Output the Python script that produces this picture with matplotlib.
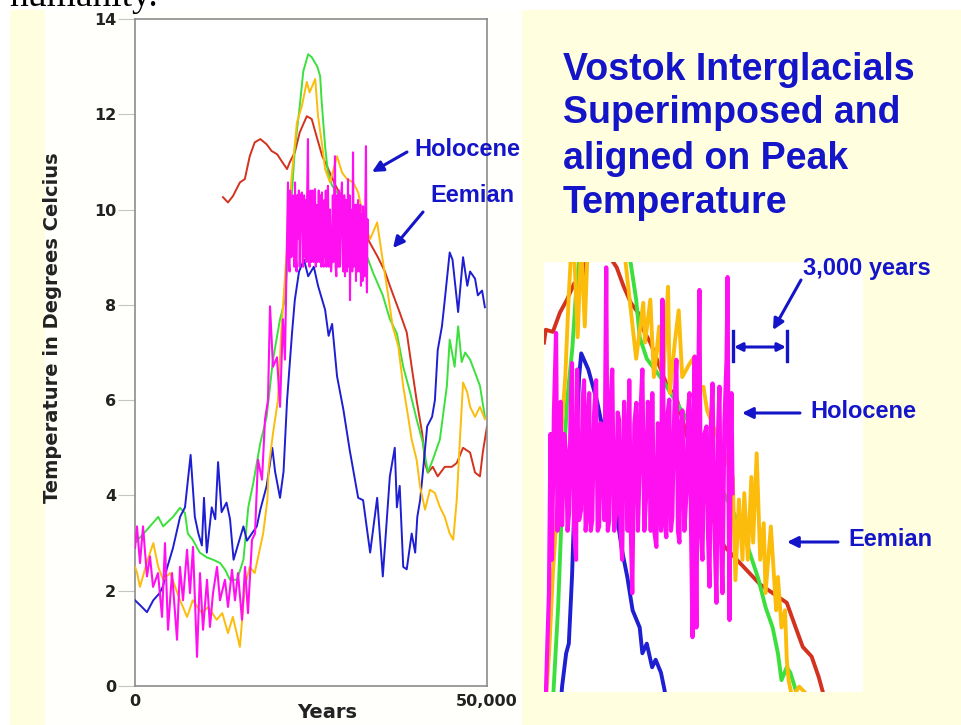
import matplotlib.pyplot as plt
from matplotlib.patches import Rectangle, FancyArrowPatch
from matplotlib.lines import Line2D

# ---- data (time in thousands of years, temperature in deg C) ----
red_t = [12.5, 13.2, 13.9, 14.9, 15.6, 16.3, 17.0, 17.8, 18.7, 19.4, 20.2, 20.9, 21.6, 22.0,
         22.7, 23.4, 24.4, 25.1, 25.9, 26.6, 27.3, 28.5, 30.0, 31.5, 33.0, 34.5, 35.5, 36.2,
         37.6, 38.6, 39.3, 40.0, 40.8, 41.2, 41.6, 42.3, 43.0, 44.0, 45.0, 45.7, 46.6, 47.6,
         48.3, 49.0, 49.4, 50.0]
red_v = [10.26, 10.15, 10.28, 10.57, 10.64, 11.12, 11.41, 11.48, 11.37, 11.23, 11.16, 11.0, 10.85, 11.0,
         11.2, 11.62, 11.96, 11.9, 11.48, 11.12, 10.9, 10.5, 10.1, 9.8, 9.4, 9.0, 8.7, 8.4,
         7.84, 7.42, 6.7, 6.0, 5.3, 4.68, 4.48, 4.6, 4.4, 4.6, 4.6, 4.68, 5.0, 4.9,
         4.48, 4.4, 4.9, 5.45]

green_t = [0.0, 1.7, 3.3, 4.0, 5.4, 6.4, 7.1, 7.5, 8.2, 9.2, 10.2, 11.1, 12.1, 12.8, 13.5, 14.5,
           15.4, 16.1, 16.8, 17.8, 18.7, 19.6, 20.6, 21.3, 22.7, 23.4, 23.9, 24.6, 25.1, 25.9,
           26.3, 26.5, 27.0, 27.4, 28.0, 29.0, 30.5, 32.0, 33.0, 33.8, 35.2, 36.2, 37.2, 38.1,
           39.1, 40.0, 40.9, 41.6, 42.3, 43.3, 44.3, 44.7, 45.4, 45.9, 46.4, 46.9, 47.6, 48.3,
           49.0, 49.7]
green_v = [3.0, 3.28, 3.55, 3.35, 3.55, 3.74, 3.63, 3.2, 3.07, 2.8, 2.7, 2.65, 2.58, 2.44, 2.23, 2.23,
           2.65, 3.76, 4.26, 5.1, 5.65, 6.85, 7.7, 8.1, 11.27, 12.17, 12.9, 13.26, 13.2, 13.0,
           12.8, 12.3, 11.33, 10.78, 10.5, 10.3, 10.0, 9.5, 9.0, 8.68, 8.2, 7.7, 7.4, 6.7,
           6.15, 5.6, 5.1, 4.48, 4.75, 5.17, 6.3, 7.27, 6.7, 7.55, 6.8, 7.0, 6.85, 6.58,
           6.3, 5.65]

blue_t = [0.0, 0.7, 1.7, 2.6, 3.5, 4.0, 4.5, 5.4, 6.4, 7.1, 7.9, 8.5, 9.0, 9.5, 9.8, 10.2, 10.9,
          11.4, 11.8, 12.3, 13.0, 13.5, 14.0, 14.6, 15.4, 15.9, 16.6, 17.3, 17.8, 18.7, 19.5,
          19.9, 20.6, 21.1, 21.6, 22.3, 22.7, 23.3, 24.0, 24.6, 25.4, 26.0, 26.6, 27.0, 27.5,
          28.0, 28.7, 29.6, 30.5, 31.7, 32.4, 33.4, 34.4, 35.2, 36.2, 36.9, 37.2, 37.6, 38.1,
          38.6, 39.3, 39.8, 40.1, 40.5, 40.9, 41.5, 42.2, 42.6, 43.0, 43.6, 44.0, 44.7, 45.1,
          45.9, 46.6, 47.2, 47.6, 48.3, 48.7, 49.3, 49.7]
blue_v = [1.8, 1.7, 1.55, 1.8, 1.95, 2.1, 2.45, 2.9, 3.55, 3.75, 4.85, 3.55, 3.2, 2.95, 3.95, 2.8, 3.75,
          3.5, 4.7, 3.65, 3.85, 3.5, 2.65, 2.95, 3.35, 3.05, 3.2, 3.35, 3.7, 4.2, 5.0,
          4.5, 3.95, 4.5, 6.0, 7.4, 8.1, 8.7, 8.95, 8.6, 8.8, 8.4, 8.1, 7.9, 7.35,
          7.6, 6.5, 5.8, 4.95, 3.95, 3.9, 2.8, 3.95, 2.3, 4.4, 5.0, 3.75, 4.2, 2.5,
          2.45, 3.2, 2.8, 3.55, 3.9, 4.5, 5.45, 5.65, 6.0, 7.05, 7.55, 8.1, 9.1, 8.95,
          7.85, 9.0, 8.4, 8.7, 8.55, 8.2, 8.3, 7.95]

eemian_t = [0.0, 0.3, 0.7, 1.8, 2.6, 3.3, 4.0, 5.0, 6.4, 7.4, 8.2, 9.5, 10.4, 11.6, 12.4, 13.2,
            13.9, 14.9, 15.6, 16.3, 17.0, 17.8, 18.2, 18.8, 19.0, 19.6, 20.3, 20.8, 21.5, 22.2,
            23.0, 23.7, 24.4, 24.8, 25.6, 26.0, 26.6, 27.0, 27.7, 28.7, 29.4, 30.1, 31.0, 31.7,
            32.7, 33.4, 34.4, 35.1, 35.9, 36.6, 37.4, 38.1, 38.8, 39.3, 40.0, 40.5, 41.2, 41.9,
            42.6, 43.3, 44.0, 44.7, 45.2, 45.7, 46.2, 46.6, 47.2, 47.6, 48.3, 49.0, 49.7]
eemian_v = [2.5, 2.37, 2.08, 2.65, 3.0, 2.5, 2.23, 2.37, 1.8, 1.45, 1.8, 1.53, 1.66, 1.39, 1.53, 1.11,
            1.45, 0.82, 2.08, 2.5, 2.37, 2.92, 3.2, 3.9, 4.6, 5.3, 6.0, 7.5, 9.0, 10.6,
            11.83, 12.17, 12.68, 12.46, 12.74, 11.96, 11.33, 10.85, 10.57, 11.12, 10.78, 10.64, 10.57, 10.36,
            9.65, 9.38, 9.73, 9.02, 8.26, 7.55, 7.13, 6.29, 5.65, 5.17, 4.75, 4.18, 3.7, 4.12,
            4.05, 3.76, 3.55, 3.2, 3.07, 3.9, 5.3, 6.37, 6.16, 5.86, 5.65, 5.86, 5.6]

holocene_t = [0.0, 0.28, 0.71, 1.14, 1.70, 2.13, 2.56, 3.27, 3.84, 4.26, 4.69, 5.26, 5.97, 6.39,
              6.82, 7.39, 7.81, 8.24, 8.81, 9.23, 9.66, 10.23, 10.65, 11.08, 11.65, 12.07, 12.78,
              13.21, 13.78, 14.2, 14.63, 15.2, 15.63, 16.05, 16.62, 17.05, 17.47, 18.04, 18.47,
              18.89, 19.18, 19.6, 20.17, 20.6, 21.02, 21.3,
              21.73, 21.85, 21.95, 22.05, 22.15, 22.3, 22.4, 22.5, 22.62, 22.73, 22.85, 22.95, 23.05,
              23.15, 23.28, 23.4, 23.55, 23.72, 23.82, 23.9, 24.02, 24.15, 24.25, 24.35, 24.45, 24.57,
              24.68, 24.8, 24.95, 25.05, 25.14, 25.25, 25.35, 25.45, 25.57, 25.68, 25.8, 25.9, 25.99,
              26.1, 26.2, 26.35, 26.45, 26.56, 26.68, 26.8, 26.9, 26.99, 27.1, 27.2, 27.3, 27.41,
              27.55, 27.7, 27.85, 27.98, 28.1, 28.2, 28.3, 28.41, 28.5, 28.6, 28.72, 28.84, 28.95,
              29.1, 29.25, 29.4, 29.5, 29.6, 29.72, 29.83, 29.92, 30.0, 30.12, 30.26, 30.33, 30.4,
              30.47, 30.54, 30.65, 30.75, 30.86, 30.97, 31.08, 31.2, 31.3, 31.39, 31.47, 31.55, 31.62,
              31.68, 31.8, 31.9, 32.0, 32.1, 32.18, 32.25, 32.32, 32.39, 32.5, 32.6, 32.7, 32.81,
              32.88, 32.95, 33.02, 33.1]
holocene_v = [2.9, 3.35, 2.58, 3.35, 2.3, 2.72, 2.08, 2.37, 1.45, 3.0, 1.18, 2.37, 0.97, 2.5,
              1.8, 2.86, 1.95, 2.92, 0.61, 2.37, 1.18, 2.23, 1.24, 1.95, 2.5, 1.8, 2.23,
              1.66, 2.44, 1.8, 2.37, 1.39, 2.5, 1.53, 3.07, 3.2, 4.75, 4.33, 5.6,
              6.0, 7.97, 6.7, 6.9, 5.86, 7.7, 6.85,
              10.57, 8.9, 8.7, 10.4, 9.0, 9.02, 10.3, 10.2, 8.8, 10.57, 9.0, 8.7, 10.3,
              9.38, 10.4, 8.8, 10.3, 10.36, 8.9, 8.8, 10.3, 9.0, 10.2, 8.9, 10.3, 11.48,
              8.9, 8.8, 10.4, 8.9, 9.38, 10.4, 8.9, 10.2, 10.43, 8.8, 10.1, 8.9, 8.96,
              10.4, 8.9, 10.3, 8.8, 10.36, 8.9, 8.8, 10.2, 9.0, 10.4, 8.8, 10.1, 10.5,
              8.8, 10.0, 8.7, 9.0, 10.3, 8.9, 10.4, 11.12, 8.8, 8.6, 10.3, 8.8, 10.4,
              8.8, 10.2, 10.57, 8.9, 8.7, 10.3, 8.6, 10.0, 10.2, 8.7, 10.64, 8.9, 8.8,
              10.3, 8.1, 10.0, 9.8, 8.7, 11.2, 8.8, 9.2, 10.1, 8.5, 10.1, 10.0, 8.7,
              10.2, 8.8, 8.7, 10.1, 8.4, 9.9, 9.8, 8.5, 10.07, 8.8, 8.6, 10.0, 11.33,
              8.7, 8.26, 9.8, 9.38]

# ---- inset (zoom on the peak) ----
in_red_t = [22.8, 22.9, 23.3, 23.7, 24.1, 24.5, 25.0, 25.3, 25.7, 26.3, 26.9, 27.3, 27.7, 28.1,
            28.3, 28.8, 29.7, 30.3, 31.5, 32.7, 33.0, 35.0, 36.5, 37.0, 37.4, 37.9, 38.3, 38.5, 38.7]
in_red_v = [10.75, 10.87, 10.85, 11.03, 11.15, 11.3, 11.33, 11.6, 11.8, 11.6, 11.45, 11.27, 11.12, 11.03,
            10.9, 10.75, 10.37, 10.22, 9.5, 8.94, 8.85, 8.5, 8.33, 8.1, 7.92, 7.83, 7.64, 7.52, 7.4]

in_green_t = [23.3, 23.6, 23.9, 24.1, 24.4, 24.6, 24.9, 25.5, 26.5, 27.5, 28.0, 28.2, 28.6, 29.5,
              31.0, 32.5, 34.0, 34.9, 35.3, 35.7, 36.0, 36.2, 36.5, 36.7, 37.0, 37.2]
in_green_v = [7.4, 8.3, 9.6, 10.2, 10.7, 11.2, 11.7, 12.0, 12.0, 11.7, 11.15, 10.8, 10.6, 10.4,
              10.0, 9.5, 9.0, 8.55, 8.29, 8.1, 7.86, 7.61, 7.73, 7.68, 7.52, 7.4]

in_blue_t = [23.7, 23.82, 24.05, 24.2, 24.38, 24.6, 24.78, 24.9, 25.3, 25.8, 26.3, 26.87, 27.2,
             27.5, 27.8, 28.2, 28.35, 28.6, 28.9, 29.1, 29.4, 29.6, 29.7]
in_blue_v = [7.3, 7.55, 7.86, 7.95, 8.57, 9.66, 10.43, 10.65, 10.5, 10.2, 9.8, 9.19, 8.82,
             8.57, 8.26, 8.1, 7.86, 7.95, 7.73, 7.8, 7.68, 7.52, 7.4]

in_eemian_t = [22.9, 23.1, 23.3, 23.6, 23.8, 24.0, 24.2, 24.4, 24.5, 24.7, 24.9, 25.1, 25.3, 25.6,
               26.5, 27.2, 27.6, 28.0, 28.4, 28.5, 28.8, 29.0, 29.3, 29.5, 29.8, 29.9, 30.2, 30.4,
               30.6, 31.0, 31.3, 31.5, 31.8, 32.0, 32.5, 33.1, 33.45, 33.6, 33.8, 34.0, 34.1, 34.3,
               34.5, 34.6, 34.8, 35.0, 35.2, 35.3, 35.6, 35.9, 36.0, 36.2, 36.4, 36.5, 36.6, 36.8,
               37.2, 37.5, 37.8]
in_eemian_v = [7.4, 7.9, 8.6, 9.35, 9.96, 10.43, 11.2, 11.8, 11.6, 10.8, 11.7, 10.9, 11.8, 12.0,
               12.0, 11.8, 11.2, 10.6, 11.12, 10.75, 11.15, 10.43, 10.9, 10.34, 11.27, 10.28, 10.78, 11.05,
               10.43, 10.55, 10.62, 10.28, 10.34, 10.12, 9.91, 9.66, 9.5, 8.54, 9.29, 8.73, 9.35, 8.73,
               9.5, 8.89, 9.72, 8.73, 9.07, 8.42, 9.04, 8.26, 8.57, 8.1, 8.26, 7.8, 7.61, 7.45,
               7.55, 7.5, 7.4]

in_holo_t = [22.8, 22.91, 23.0, 23.08, 23.17, 23.25, 23.36, 23.48, 23.56, 23.65, 23.74, 23.82, 23.94,
             24.05, 24.13, 24.21, 24.3, 24.38, 24.5, 24.61, 24.67, 24.78, 24.89, 24.98, 25.06, 25.15,
             25.23, 25.29, 25.35, 25.44, 25.52, 25.63, 25.74, 25.83, 25.91, 26.0, 26.08, 26.2, 26.31,
             26.4, 26.48, 26.56, 26.65, 26.76, 26.87, 26.96, 27.04, 27.12, 27.21, 27.32, 27.44, 27.52,
             27.61, 27.7, 27.78, 27.9, 28.01, 28.1, 28.18, 28.27, 28.35, 28.46, 28.57, 28.66, 28.74,
             28.82, 28.91, 29.02, 29.14, 29.22, 29.31, 29.4, 29.48, 29.6, 29.7, 29.78, 29.87, 29.96,
             30.04, 30.15, 30.27, 30.36, 30.44, 30.52, 30.61, 30.72, 30.84, 30.92, 31.01, 31.1, 31.18,
             31.24, 31.3, 31.35, 31.4, 31.48, 31.57, 31.65, 31.74, 31.85, 31.97, 32.05, 32.14, 32.22,
             32.31, 32.42, 32.53, 32.62, 32.7, 32.78, 32.87, 32.98, 33.1, 33.16, 33.22, 33.27, 33.33,
             33.38, 33.44]
in_holo_v = [7.3, 7.5, 8.0, 8.42, 9.9, 8.73, 10.1, 10.84, 9.0, 9.66, 10.2, 9.05, 9.9,
             9.72, 9.0, 9.16, 10.1, 10.56, 9.0, 8.73, 10.5, 9.1, 9.19, 10.2, 10.4, 9.0,
             9.16, 10.1, 10.28, 9.0, 9.1, 10.1, 10.4, 9.0, 9.04, 10.0, 9.97, 9.1, 11.45,
             9.0, 9.1, 10.2, 10.5, 9.0, 9.16, 10.1, 10.03, 9.0, 8.73, 10.2, 9.66, 9.0,
             10.4, 9.0, 8.42, 10.0, 10.19, 9.0, 9.5, 10.2, 10.5, 9.0, 9.35, 10.2, 9.97,
             9.0, 10.28, 9.0, 8.85, 10.0, 9.97, 9.0, 11.15, 9.1, 8.94, 10.1, 10.22, 9.0,
             9.13, 10.1, 10.59, 9.0, 8.89, 10.0, 10.12, 9.0, 9.35, 10.1, 10.28, 9.0, 8.01,
             9.9, 10.62, 9.0, 8.1, 10.0, 11.24, 9.0, 8.73, 9.9, 9.97, 9.0, 8.48, 10.0,
             10.37, 9.0, 8.33, 9.9, 10.34, 9.0, 8.42, 10.0, 10.59, 11.36, 9.2, 8.17, 9.8,
             10.28, 9.35]

y_ticks = [0, 2, 4, 6, 8, 10, 12, 14]
x_ticks = [0, 50]
x_tick_labels = ['0', '50,000']

# ---- colours ----
RED = '#d2321e'
GREEN = '#3ce03c'
BLUE = '#1e1ed2'
ORANGE = '#fcbc0c'
MAGENTA = '#ff10f0'
TXT_BLUE = '#1414c8'
YELLOW = '#ffffe0'

W, H = 962, 725


def fx(x):
    return x / W


def fy(y):
    return 1 - y / H


def fig_arrow(x0, y0, x1, y1, style='-|>', scale=16):
    # arrow in pixel positions, drawn at figure level so the inset does not hide it
    fig.add_artist(FancyArrowPatch((fx(x0), fy(y0)), (fx(x1), fy(y1)), transform=fig.transFigure,
                                   arrowstyle=style, color=TXT_BLUE, lw=2.2, mutation_scale=scale,
                                   shrinkA=0, shrinkB=0, zorder=10))


fig = plt.figure(figsize=(W / 100, H / 100), dpi=100, facecolor=YELLOW)

# white panels behind the left chart
fig.add_artist(Rectangle((fx(45), 0), fx(522) - fx(45), fy(10), transform=fig.transFigure,
                         facecolor='#fffffc', edgecolor='none', zorder=-2))
fig.add_artist(Rectangle((0, fy(10)), 1, 10 / H, transform=fig.transFigure,
                         facecolor='white', edgecolor='none', zorder=-2))
fig.add_artist(Rectangle((0, 0), fx(10), 1, transform=fig.transFigure,
                         facecolor='white', edgecolor='none', zorder=-2))

# cut-off text from the page above
fig.text(fx(10), fy(6), 'humanity.', family='Liberation Serif', fontsize=27,
         ha='left', va='baseline', color='black')

# ---- main chart ----
ax = fig.add_axes([fx(135), fy(686), fx(487) - fx(135), (686 - 19) / H])
ax.set_facecolor('white')
lw = 1.4
ax.plot(red_t, red_v, color=RED, lw=lw, zorder=2)
ax.plot(green_t, green_v, color=GREEN, lw=lw, zorder=3)
ax.plot(blue_t, blue_v, color=BLUE, lw=lw, zorder=4)
ax.plot(eemian_t, eemian_v, color=ORANGE, lw=lw, zorder=5)
ax.plot(holocene_t, holocene_v, color=MAGENTA, lw=1.5, zorder=6)

ax.set_xlim(0, 50)
ax.set_ylim(0, 14)
ax.set_yticks(y_ticks)
ax.set_yticklabels([str(v) for v in y_ticks])
ax.set_xticks(x_ticks)
ax.set_xticklabels(x_tick_labels)
for s in ax.spines.values():
    s.set_color('#8c8c8c')
    s.set_linewidth(1.2)
ax.tick_params(axis='y', direction='out', length=12, width=0.8, color='#c4c4c4', pad=1.5,
               labelsize=11.5, labelcolor='#222222')
ax.tick_params(axis='x', length=0, pad=6, labelsize=11.5, labelcolor='#222222')
for lab in ax.get_xticklabels() + ax.get_yticklabels():
    lab.set_fontweight('bold')

ax.set_xlabel('Years', fontsize=14, fontweight='bold', color='#222222')
ax.xaxis.set_label_coords((327 - 135) / 352, (686 - 703) / 667)
ax.set_ylabel('Temperature in Degrees Celcius', fontsize=14, fontweight='bold', color='#222222')
ax.yaxis.set_label_coords((62 - 135) / 352, (686 - 328) / 667)

ann_font = dict(family='Liberation Sans', fontsize=17, fontweight='bold', color=TXT_BLUE)

fig.text(fx(414), fy(150), 'Holocene', ha='left', va='center', **ann_font)
fig.text(fx(430), fy(196), 'Eemian', ha='left', va='center', **ann_font)
fig_arrow(407, 152, 372, 172)
fig_arrow(423, 212, 393, 248)

# ---- title ----
title_lines = ['Vostok Interglacials', 'Superimposed and', 'aligned on Peak', 'Temperature']
for line, base in zip(title_lines, [80, 123, 169, 213]):
    fig.text(fx(563), fy(base), line, family='Liberation Sans', fontsize=27,
             fontweight='bold', color=TXT_BLUE, ha='left', va='baseline')

# ---- inset ----
ins = fig.add_axes([fx(544), fy(692), fx(863) - fx(544), (692 - 262) / H])
ins.set_facecolor('white')
ilw = 2.8
ins.plot(in_red_t, in_red_v, color=RED, lw=ilw, zorder=2)
ins.plot(in_green_t, in_green_v, color=GREEN, lw=ilw, zorder=3)
ins.plot(in_blue_t, in_blue_v, color=BLUE, lw=ilw, zorder=4)
ins.plot(in_eemian_t, in_eemian_v, color=ORANGE, lw=ilw, zorder=5)
ins.plot(in_holo_t, in_holo_v, color=MAGENTA, lw=3.0, zorder=6)
ins.set_xlim(22.8, 40.8)
ins.set_ylim(7.5, 11.5)
ins.set_xticks([])
ins.set_yticks([])
for s in ins.spines.values():
    s.set_visible(False)

# 3,000 year bracket
fig.text(fx(803), fy(268), '3,000 years', ha='left', va='center', **ann_font)
fig_arrow(801, 280, 773, 330)
for xb in (733, 787):
    fig.add_artist(Line2D([fx(xb), fx(xb)], [fy(331), fy(361)], transform=fig.transFigure,
                          color=TXT_BLUE, lw=2.4, zorder=10))
fig_arrow(734, 347, 786, 347, style='<|-|>', scale=12)

fig.text(fx(810), fy(412), 'Holocene', ha='left', va='center', **ann_font)
fig_arrow(800, 413, 742, 413)
fig.text(fx(848), fy(540), 'Eemian', ha='left', va='center', **ann_font)
fig_arrow(838, 542, 787, 542)

fig.savefig('out.png', dpi=100, facecolor=YELLOW)
